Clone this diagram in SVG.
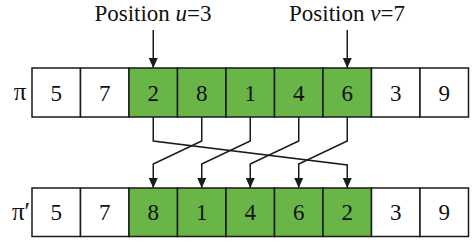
<svg xmlns="http://www.w3.org/2000/svg" width="474" height="241" viewBox="0 0 474 241">
<defs>
<style>
.cell{fill:#ffffff;stroke:#1a1a1a;stroke-width:1.5}
.sel{fill:#6ab547;stroke:#1a1a1a;stroke-width:1.5}
text{font-family:"Liberation Serif","Times New Roman",serif;fill:#111111;text-anchor:middle}
.num{font-size:23px}
.lbl{font-size:23px}
.pi{font-size:25px}
.con{fill:none;stroke:#1a1a1a;stroke-width:1.5;marker-end:url(#ah)}
</style>
<marker id="ah" markerUnits="userSpaceOnUse" markerWidth="10" markerHeight="9" refX="10" refY="4.5" orient="auto">
<path d="M0,0 L10,4.5 L0,9 z" fill="#1a1a1a"/>
</marker>
</defs>
<rect width="474" height="241" fill="#ffffff"/>
<g id="label-u"><text class="lbl" x="153" y="21">Position <tspan font-style="italic">u</tspan>=3</text></g>
<g id="label-v"><text class="lbl" x="347" y="21">Position <tspan font-style="italic">v</tspan>=7</text></g>
<g id="pi-label"><text class="pi" x="20" y="100">π</text></g>
<g id="pi-prime-label"><text class="pi" x="21" y="220">π′</text></g>
<g id="row-pi">
<rect class="cell" x="32" y="68" width="48.5" height="49"/><text class="num" x="56.25" y="100.5">5</text>
<rect class="cell" x="80.5" y="68" width="48.5" height="49"/><text class="num" x="104.75" y="100.5">7</text>
<rect class="sel" x="129" y="68" width="48.5" height="49"/><text class="num" x="153.25" y="100.5">2</text>
<rect class="sel" x="177.5" y="68" width="48.5" height="49"/><text class="num" x="201.75" y="100.5">8</text>
<rect class="sel" x="226" y="68" width="48.5" height="49"/><text class="num" x="250.25" y="100.5">1</text>
<rect class="sel" x="274.5" y="68" width="48.5" height="49"/><text class="num" x="298.75" y="100.5">4</text>
<rect class="sel" x="323" y="68" width="48.5" height="49"/><text class="num" x="347.25" y="100.5">6</text>
<rect class="cell" x="371.5" y="68" width="48.5" height="49"/><text class="num" x="395.75" y="100.5">3</text>
<rect class="cell" x="420" y="68" width="48.5" height="49"/><text class="num" x="444.25" y="100.5">9</text>
</g>
<g id="row-pi-prime">
<rect class="cell" x="32" y="188" width="48.5" height="48.5"/><text class="num" x="56.25" y="220">5</text>
<rect class="cell" x="80.5" y="188" width="48.5" height="48.5"/><text class="num" x="104.75" y="220">7</text>
<rect class="sel" x="129" y="188" width="48.5" height="48.5"/><text class="num" x="153.25" y="220">8</text>
<rect class="sel" x="177.5" y="188" width="48.5" height="48.5"/><text class="num" x="201.75" y="220">1</text>
<rect class="sel" x="226" y="188" width="48.5" height="48.5"/><text class="num" x="250.25" y="220">4</text>
<rect class="sel" x="274.5" y="188" width="48.5" height="48.5"/><text class="num" x="298.75" y="220">6</text>
<rect class="sel" x="323" y="188" width="48.5" height="48.5"/><text class="num" x="347.25" y="220">2</text>
<rect class="cell" x="371.5" y="188" width="48.5" height="48.5"/><text class="num" x="395.75" y="220">3</text>
<rect class="cell" x="420" y="188" width="48.5" height="48.5"/><text class="num" x="444.25" y="220">9</text>
</g>
<g id="connectors">
<path class="con" d="M153.25,30 V68"/>
<path class="con" d="M347.25,30 V68"/>
<path class="con" d="M153.25,117 V141 L347.25,165 V188"/>
<path class="con" d="M201.75,117 V141 L153.25,164 V188"/>
<path class="con" d="M250.25,117 V141 L201.75,164 V188"/>
<path class="con" d="M298.75,117 V141 L250.25,164 V188"/>
<path class="con" d="M347.25,117 V141 L298.75,164 V188"/>
</g>
</svg>
